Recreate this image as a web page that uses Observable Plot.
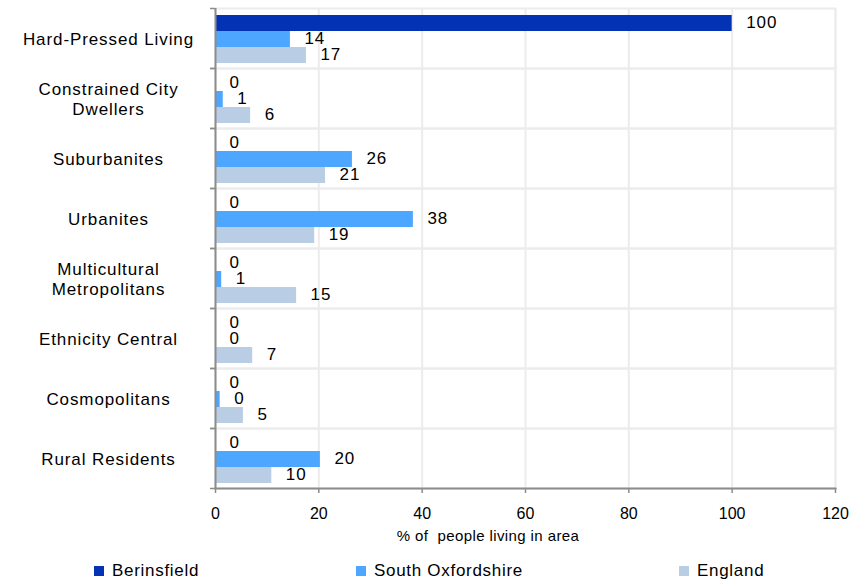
<!DOCTYPE html>
<html>
<head>
<meta charset="utf-8">
<script src="https://cdn.jsdelivr.net/npm/d3@7"></script>
<script src="https://cdn.jsdelivr.net/npm/@observablehq/plot@0.6"></script>
<style>
  html, body { margin: 0; padding: 0; background: #fff; }
  #wrap { position: relative; width: 865px; height: 580px; overflow: hidden; font-family: "Liberation Sans", Arial, sans-serif; color: #000; }
  #chart svg text { letter-spacing: 0.9px; }
  #chart svg g[aria-label="x-axis tick label"] text { letter-spacing: 0; }
  #xtitle { position: absolute; top: 527px; left: 0; width: 976px; text-align: center; font-size: 15px; letter-spacing: 0.4px; white-space: pre; line-height: 18px; }
  .leg { position: absolute; top: 561px; font-size: 17px; letter-spacing: 0.7px; line-height: 20px; white-space: nowrap; }
  .leg i { position: absolute; top: 5px; width: 10px; height: 10px; }
</style>
</head>
<body>
<div id="wrap">
  <div id="chart"></div>
  <div id="xtitle"></div>
  <div id="legend"></div>
</div>
<script>
const categories = ["Hard-Pressed Living", "Constrained City Dwellers", "Suburbanites", "Urbanites", "Multicultural Metropolitans", "Ethnicity Central", "Cosmopolitans", "Rural Residents"];
const categoryLabels = ["Hard-Pressed Living", "Constrained City\nDwellers", "Suburbanites", "Urbanites", "Multicultural\nMetropolitans", "Ethnicity Central", "Cosmopolitans", "Rural Residents"];
const seriesNames = ["Berinsfield", "South Oxfordshire", "England"];
const berinsfield = [100, 0, 0, 0, 0, 0, 0, 0];
const southOxfordshire = [14.5, 1.5, 26.5, 38.3, 1.2, 0, 0.9, 20.3];
const england = [17.6, 6.8, 21.3, 19.2, 15.7, 7.2, 5.4, 10.9];
const seriesColors = ["#0432b4", "#4da6ff", "#b9cde5"];
const xTicks = [0, 20, 40, 60, 80, 100, 120];
const xTitle = "% of  people living in area";

const seriesValues = [berinsfield, southOxfordshire, england];
const data = categories.flatMap((c, i) =>
  seriesNames.map((s, j) => ({category: c, series: s, value: seriesValues[j][i]}))
);

const gridColor = "#ececec";
const axisColor = "#8c8c8c";

const chart = Plot.plot({
  width: 865,
  height: 528,
  marginLeft: 215,
  marginRight: 30,
  marginTop: 8,
  marginBottom: 40,
  style: {fontFamily: '"Liberation Sans", Arial, sans-serif', fontSize: "17px", color: "#000", background: "#fff", overflow: "visible"},
  x: {domain: [0, 120]},
  y: {domain: seriesNames, axis: null, paddingInner: 0, paddingOuter: 0.35, align: 0.6},
  fy: {domain: categories, padding: 0},
  color: {domain: seriesNames, range: seriesColors},
  marks: [
    Plot.frame({stroke: gridColor, strokeWidth: 2}),
    Plot.gridX({ticks: xTicks.slice(1), stroke: gridColor, strokeOpacity: 1, strokeWidth: 2}),
    Plot.barX(data, {fy: "category", y: "series", x: "value", fill: "series"}),
    Plot.ruleX([0], {stroke: axisColor, strokeWidth: 2}),
    Plot.frame({anchor: "bottom", facetAnchor: "bottom", stroke: axisColor, strokeWidth: 2}),
    Plot.axisX({ticks: xTicks, tickSize: 5, tickPadding: 14, label: null, fontSize: 16, stroke: axisColor, strokeWidth: 1.5, fill: "#000"}),
    Plot.axisFy({anchor: "left", tickSize: 5, tickFormat: () => "", dy: -30, stroke: axisColor, strokeWidth: 1.5, label: null}),
    Plot.axisFy({anchor: "left", tickSize: 5, tickFormat: () => "", dy: 30, stroke: axisColor, strokeWidth: 1.5, label: null}),
    Plot.text(data, {fy: "category", y: "series", x: "value", text: d => String(Math.floor(d.value)), dx: 14, dy: -1, textAnchor: "start", fontSize: 17, fill: "#000"}),
    Plot.text(categories, {fy: d => d, text: (d, i) => categoryLabels[i], frameAnchor: "left", dx: -107, textAnchor: "middle", lineHeight: 1.2, fontSize: 17, fill: "#000"})
  ]
});
document.getElementById("chart").appendChild(chart);

document.getElementById("xtitle").textContent = xTitle;

const legendPos = [{sq: 94, tx: 112}, {sq: 356, tx: 374}, {sq: 679, tx: 697}];
const legend = document.getElementById("legend");
seriesNames.forEach((s, i) => {
  const sw = document.createElement("div");
  sw.className = "leg";
  sw.style.left = legendPos[i].sq + "px";
  sw.innerHTML = `<i style="left:0;background:${seriesColors[i]}"></i><span style="position:absolute;left:${legendPos[i].tx - legendPos[i].sq}px">${s}</span>`;
  legend.appendChild(sw);
});
</script>
</body>
</html>
